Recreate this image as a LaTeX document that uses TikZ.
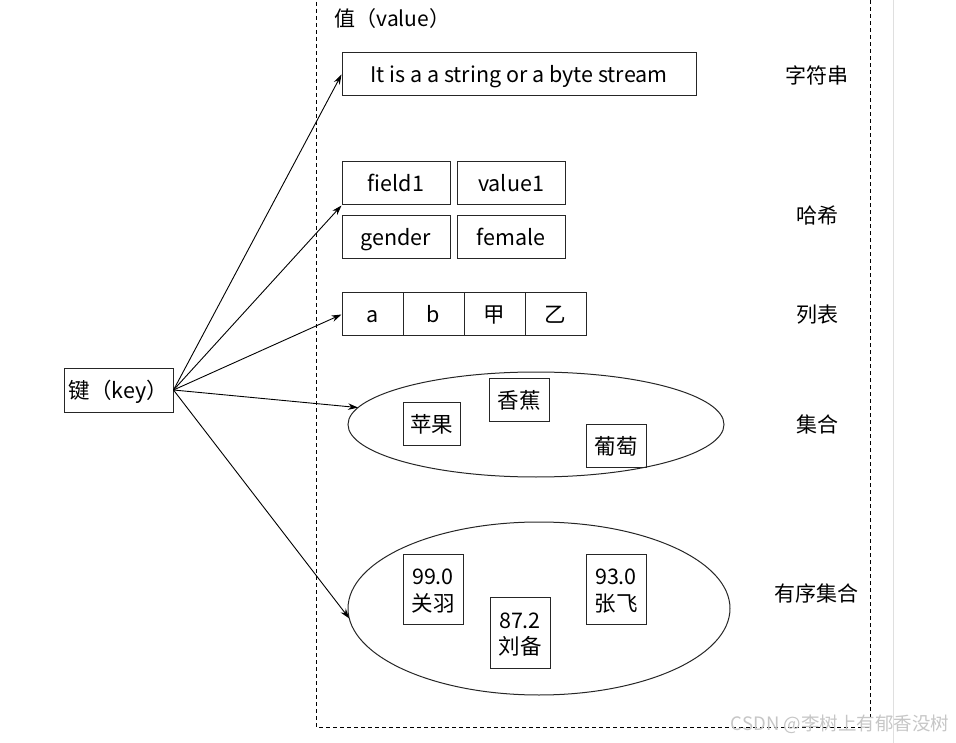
\documentclass[tikz,border=0pt]{standalone}
\usepackage{fontspec}
\setmainfont{Noto Sans CJK SC}
\usetikzlibrary{arrows.meta,shapes.geometric}

\begin{document}
\begin{tikzpicture}[x=1pt, y=-1pt,
cellnode/.style={draw=black!85, line width=1pt, inner sep=0pt, minimum height=43pt, font=\fontsize{21.5}{26.5}\selectfont},
flatcell/.style={cellnode, text height=17pt, text depth=0pt},
paircell/.style={cellnode, minimum width=60pt, minimum height=70pt, align=center, text height=44pt, text depth=0pt},
ringnode/.style={ellipse, draw=black!85, line width=1pt, inner sep=0pt, outer sep=0pt},
tagnode/.style={font=\fontsize{21}{26}\selectfont},
linkarrow/.style={-{Stealth[length=10pt,width=6.5pt]}, line width=0.9pt}
]

    \useasboundingbox (0,0) rectangle (956,743);
    \draw[gray!25, line width=0.8pt] (893,0) -- (893,743);
    \draw[dash pattern=on 4pt off 3pt, line width=0.9pt] (316,-5) rectangle (870,727);

    \node [flatcell, minimum width=109pt, minimum height=44pt, text height=18pt] (key) at (118.5,390) {键（key）};
    \node [tagnode, anchor=west] (valtitle) at (331,19) {值（value）};

    % string
    \node [flatcell, minimum width=354pt] (str) at (519,74.5) {It is a a string or a byte stream};

    % hash
    \node [flatcell, minimum width=108pt] (h1) at (396,183.5) {field1};
    \node [flatcell, minimum width=108pt] (h2) at (511,183.5) {value1};
    \node [flatcell, minimum width=108pt] (h3) at (396,237.5) {gender};
    \node [flatcell, minimum width=108pt] (h4) at (511,237.5) {female};

    % list
    \node [flatcell, minimum width=61pt] (l1) at (372.5,314.5) {a};
    \node [flatcell, minimum width=61pt] (l2) at (433.5,314.5) {b};
    \node [flatcell, minimum width=61pt] (l3) at (494.5,314.5) {甲};
    \node [flatcell, minimum width=61pt] (l4) at (555.5,314.5) {乙};

    % set
    \node [ringnode, minimum width=376pt, minimum height=105pt] (setring) at (536,424.5) {};
    \node [flatcell, minimum width=57pt] (s1) at (431.5,423.5) {苹果};
    \node [flatcell, minimum width=60pt] (s2) at (519,399.5) {香蕉};
    \node [flatcell, minimum width=60pt] (s3) at (616,445.5) {葡萄};

    % sorted set
    \node [ringnode, minimum width=382pt, minimum height=173pt] (zring) at (539,608.5) {};
    \node [paircell] (z1) at (433,589) {99.0\\关羽};
    \node [paircell, minimum height=71pt] (z2) at (520,632.5) {87.2\\刘备};
    \node [paircell] (z3) at (616,589) {93.0\\张飞};

    \node [tagnode] (t1) at (817,75) {字符串};
    \node [tagnode] (t2) at (817,216) {哈希};
    \node [tagnode] (t3) at (817,315) {列表};
    \node [tagnode] (t4) at (817,424) {集合};
    \node [tagnode] (t5) at (816,593) {有序集合};

    \draw [linkarrow] (key.east) -- (str.west);
    \draw [linkarrow] (key.east) -- (h1.south west);
    \draw [linkarrow] (key.east) -- (l1.west);
    \draw [linkarrow] (key.east) -- (setring);
    \draw [linkarrow] (key.east) -- (zring.183);

    \node [text=gray!45, font=\fontsize{18.5}{20}\selectfont] (mark) at (840,724) {CSDN @李树上有郁香没树};

\end{tikzpicture}
\end{document}
